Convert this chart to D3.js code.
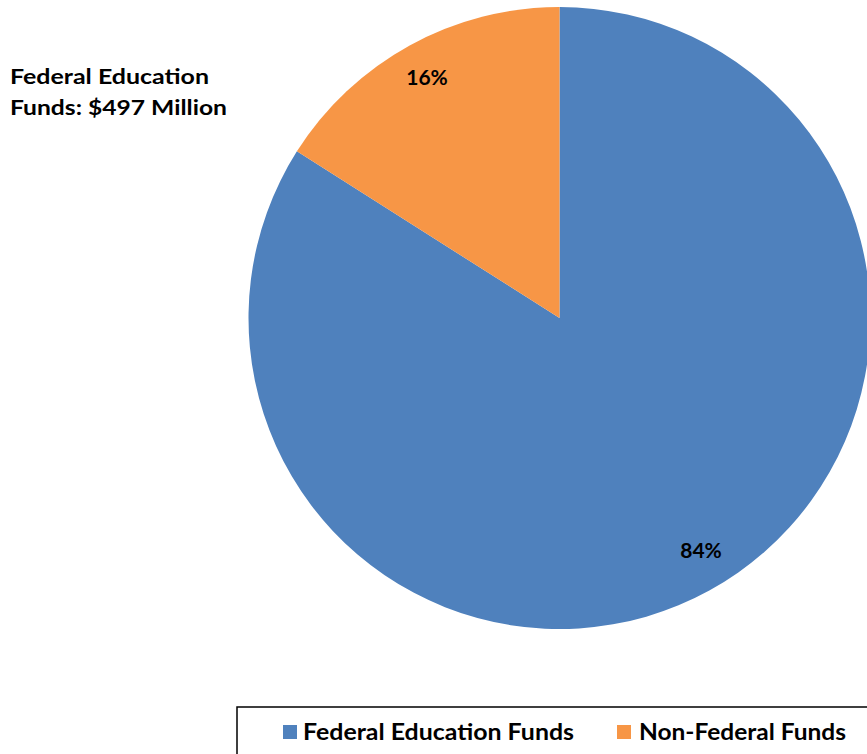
<!DOCTYPE html>
<html><head><meta charset="utf-8">
<script src="https://cdn.jsdelivr.net/npm/d3@7"></script>
<style>body{margin:0;background:#fff}svg{display:block}text{font-family:Lato,"Open Sans",sans-serif;font-weight:bold;fill:#000}</style>
</head><body>
<svg id="c" width="867" height="754"></svg>
<script>
const categories = ["Federal Education Funds", "Non-Federal Funds"];
const values = [84, 16];
const labels = ["84%", "16%"];
const colors = ["#4F81BD", "#F79646"];
const title = ["Federal Education", "Funds: $497 Million"];

const svg = d3.select("#c");
const cx = 559.5, cy = 318, r = 311;
const pie = d3.pie().sort(null).startAngle(0).endAngle(2*Math.PI);
const arcs = pie(values);
const arc = d3.arc().innerRadius(0).outerRadius(r);
const g = svg.append("g").attr("transform", `translate(${cx},${cy})`);
g.selectAll("path").data(arcs).enter().append("path")
  .attr("d", arc).attr("fill", (d,i)=>colors[i]);

const labelPos = [[701-cx, 550-cy], [427-cx, 77-cy]];
g.selectAll("text.lbl").data(arcs).enter().append("text")
  .attr("class","lbl")
  .attr("x",(d,i)=>labelPos[i][0]).attr("y",(d,i)=>labelPos[i][1]+8)
  .attr("text-anchor","middle").attr("font-size",21)
  .text((d,i)=>labels[i]);

svg.selectAll("text.title").data(title).enter().append("text")
  .attr("class","title").attr("x",10).attr("y",(d,i)=>84+i*31)
  .attr("font-size",21)
  .attr("textLength",(d,i)=>i===0?199:217).attr("lengthAdjust","spacingAndGlyphs")
  .text(d=>d);

// legend
svg.append("rect").attr("x",237).attr("y",707).attr("width",640).attr("height",60)
  .attr("fill","#fff").attr("stroke","#000").attr("stroke-width",1.5);
const lg = [{sx:283, tx:303, tw:271},{sx:617, tx:639, tw:207}];
categories.forEach((c,i)=>{
  svg.append("rect").attr("x",lg[i].sx).attr("y",725).attr("width",14).attr("height",14).attr("fill",colors[i]);
  svg.append("text").attr("x",lg[i].tx).attr("y",740).attr("font-size",22)
    .attr("textLength",lg[i].tw).attr("lengthAdjust","spacingAndGlyphs").text(c);
});
</script>
</body></html>
